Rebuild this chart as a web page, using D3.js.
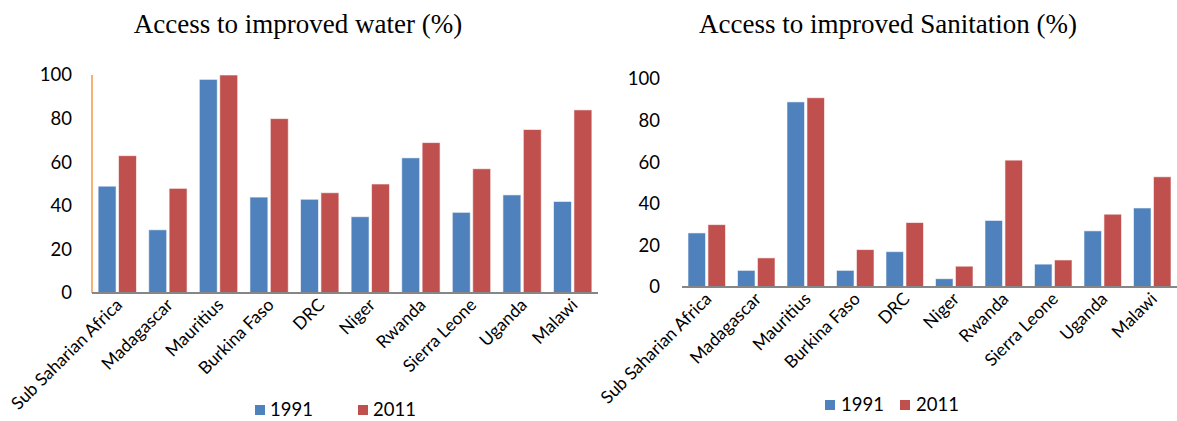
<!DOCTYPE html>
<html>
<head>
<meta charset="utf-8">
<script src="https://cdn.jsdelivr.net/npm/d3@7"></script>
<style>
  body { margin: 0; background: #fff; }
  svg { display: block; }
  .tick text, .cat-label, .legend text { font-family: Lato, "Open Sans", sans-serif; fill: #000; }
  .title { font-family: "Liberation Serif", "DejaVu Serif", serif; fill: #000; }
</style>
</head>
<body>
<svg id="chart" width="1177" height="421"></svg>
<script>
// categories shared by both panels
const countries = [
  'Sub Saharian Africa', 'Madagascar', 'Mauritius', 'Burkina Faso', 'DRC',
  'Niger', 'Rwanda', 'Sierra Leone', 'Uganda', 'Malawi',
]
const years = ['1991', '2011']
const yTicks = [0, 20, 40, 60, 80, 100]

// access to improved water (%)
const water1991 = [49, 29, 98, 44, 43, 35, 62, 37, 45, 42]
const water2011 = [63, 48, 100, 80, 46, 50, 69, 57, 75, 84]

// access to improved sanitation (%)
const sanit1991 = [26, 8, 89, 8, 17, 4, 32, 11, 27, 38]
const sanit2011 = [30, 14, 91, 18, 31, 10, 61, 13, 35, 53]

const COLORS = ['#4F81BD', '#C0504D']

const svg = d3.select('#chart')

function drawPanel(opts) {
  const g = svg.append('g')

  const x = d3.scaleBand()
    .domain(countries)
    .range([opts.left, opts.right])
  const inner = d3.scaleBand()
    .domain(years)
    .range([0, x.bandwidth()])
    .paddingInner(0.12)
    .paddingOuter(0.3)
  const y = d3.scaleLinear().domain([0, 100]).range([opts.bottom, opts.top])

  g.append('text')
    .attr('class', 'title')
    .attr('x', opts.titleX)
    .attr('y', 33)
    .attr('text-anchor', 'middle')
    .attr('font-size', 27)
    .text(opts.title)

  // y axis labels only
  const yAxis = g.append('g')
    .attr('transform', `translate(${opts.left}, 0)`)
    .call(d3.axisLeft(y).tickValues(yTicks).tickSize(0).tickPadding(opts.tickPad))
  yAxis.select('.domain').remove()
  yAxis.selectAll('.tick text').attr('font-size', 18.5)

  if (opts.orangeAxis) {
    g.append('line')
      .attr('x1', opts.left).attr('x2', opts.left)
      .attr('y1', y(100)).attr('y2', y(0))
      .attr('stroke', '#F79646')
      .attr('stroke-width', 1.5)
  }

  const rows = countries.map((c, i) => ({
    country: c,
    values: [opts.series[0][i], opts.series[1][i]],
  }))

  const groups = g.selectAll('.cat')
    .data(rows)
    .enter()
    .append('g')
    .attr('class', 'cat')
    .attr('transform', (d) => `translate(${x(d.country)}, 0)`)

  groups.selectAll('rect')
    .data((d) => d.values.map((v, k) => ({year: years[k], value: v, k: k})))
    .enter()
    .append('rect')
    .attr('x', (d) => inner(d.year))
    .attr('width', inner.bandwidth())
    .attr('y', (d) => y(d.value))
    .attr('height', (d) => y(0) - y(d.value))
    .attr('fill', (d) => COLORS[d.k])
    .attr('stroke', '#ffffff')
    .attr('stroke-opacity', 0.6)
    .attr('stroke-width', 1)

  g.append('line')
    .attr('x1', opts.left).attr('x2', opts.right)
    .attr('y1', y(0)).attr('y2', y(0))
    .attr('stroke', '#868686')
    .attr('stroke-width', 2)

  g.selectAll('.cat-label')
    .data(countries)
    .enter()
    .append('text')
    .attr('class', 'cat-label')
    .attr('font-size', 17.5)
    .attr('text-anchor', 'end')
    .attr('transform', (d) =>
      `translate(${x(d) + x.bandwidth() / 2 + 6}, ${y(0) + 13}) rotate(-45)`)
    .text((d) => d)

  const legend = g.append('g')
    .attr('class', 'legend')
    .attr('transform', `translate(${opts.legendX}, ${opts.legendY})`)
  const items = legend.selectAll('g')
    .data(years)
    .enter()
    .append('g')
    .attr('transform', (d, i) => `translate(${i * opts.legendStep}, 0)`)
  items.append('rect')
    .attr('x', 0).attr('y', -11)
    .attr('width', 10).attr('height', 10)
    .attr('fill', (d, i) => COLORS[i])
  items.append('text')
    .attr('x', opts.legendGap)
    .attr('y', 0)
    .attr('font-size', 18.5)
    .text((d) => d)
}

drawPanel({
  title: 'Access to improved water (%)',
  titleX: 298,
  left: 92, right: 598, top: 75, bottom: 293,
  tickPad: 20,
  orangeAxis: true,
  series: [water1991, water2011],
  legendX: 255, legendY: 416, legendStep: 103, legendGap: 15,
})

drawPanel({
  title: 'Access to improved Sanitation (%)',
  titleX: 888,
  left: 682, right: 1177, top: 79, bottom: 287,
  tickPad: 22,
  orangeAxis: false,
  series: [sanit1991, sanit2011],
  legendX: 825, legendY: 411, legendStep: 75, legendGap: 16,
})
</script>
</body>
</html>
